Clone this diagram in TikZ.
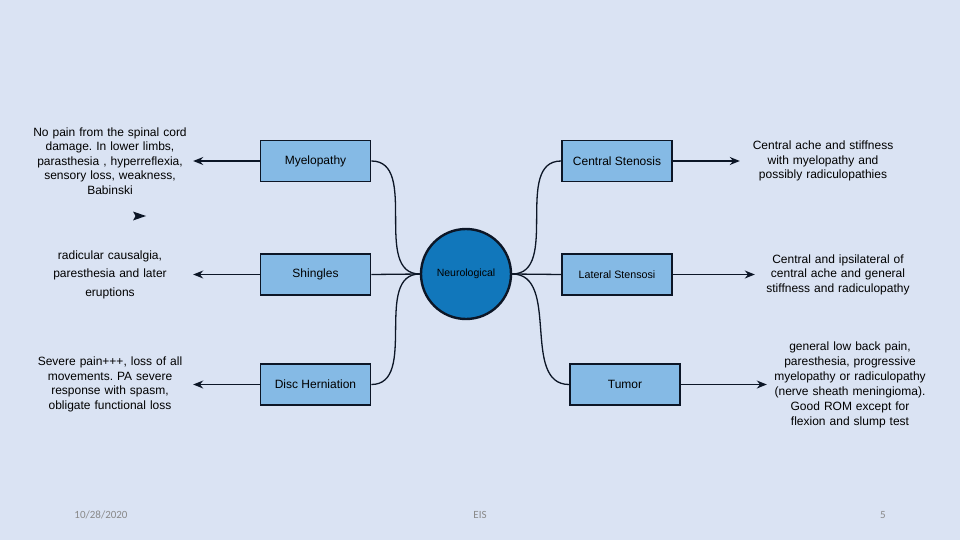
\documentclass[tikz,border=0pt]{standalone}
\usepackage{fontspec}
\setmainfont{Liberation Sans}
\newfontfamily\footfont{Carlito}
\usetikzlibrary{shapes,arrows.meta}
\definecolor{bgcol}{RGB}{218,227,243}
\definecolor{boxcol}{RGB}{133,186,229}
\definecolor{neurocol}{RGB}{17,119,187}
\definecolor{edgecol}{RGB}{12,22,38}
\definecolor{footcol}{RGB}{137,137,137}
\tikzstyle{symbox}=[draw=edgecol,line width=1.8pt,fill=boxcol,minimum width=110pt,minimum height=41pt,inner sep=0pt,font=\fontsize{12}{14}\selectfont]
\tikzstyle{desc}=[text width=160pt,inner sep=3pt,align=center,font=\fontsize{12}{14.5}\selectfont]
\tikzstyle{link}=[line width=1.3pt,edgecol]
\tikzstyle{pointer}=[line width=1.3pt,edgecol,-{Stealth[length=10pt,width=8pt]}]
\tikzstyle{foot}=[text=footcol,font=\footfont\fontsize{11}{13}\selectfont]
\frenchspacing

\begin{document}
\begin{tikzpicture}[x=1pt,y=-1pt]
\fill[bgcol] (0,0) rectangle (960,540);
\useasboundingbox (0,0) rectangle (960,540);
% centre
\node[draw=edgecol,circle,line width=2.4pt,fill=neurocol,minimum size=90pt,inner sep=0pt,font=\fontsize{10.5}{12}\selectfont] (neuro) at (466,274) {Neurological};
% left branch
\node[symbox] (myelo) at (315.5,161) {Myelopathy};
\node[symbox] (shingles) at (315.5,274.5) {Shingles};
\node[symbox] (disc) at (315.5,384.5) {Disc Herniation};
% right branch
\node[symbox] (central) at (617,161) {Central Stenosis};
\node[symbox,font=\fontsize{10.7}{13}\selectfont] (lateral) at (617,274.5) {Lateral Stensosi};
\node[symbox] (tumor) at (625,384.5) {Tumor};
% descriptions
\node[desc] (myelotxt) at (110,161) {No pain from the spinal cord\\ damage. In lower limbs,\\ parasthesia , hyperreflexia,\\ sensory loss, weakness,\\ Babinski};
\node[desc,font=\fontsize{12}{18.5}\selectfont] (shinglestxt) at (110,274.5) {radicular causalgia,\\ paresthesia and later\\ eruptions};
\node[desc] (disctxt) at (110,384.5) {Severe pain+++, loss of all\\ movements. PA severe\\ response with spasm,\\ obligate functional loss};
\node[desc] (centraltxt) at (823,161) {Central ache and stiffness\\ with myelopathy and\\ possibly radiculopathies};
\node[desc] (lateraltxt) at (838,274.5) {Central and ipsilateral of\\ central ache and general\\ stiffness and radiculopathy};
\node[desc,font=\fontsize{12}{15}\selectfont] (tumortxt) at (850,384.5) {general low back pain,\\ paresthesia, progressive\\ myelopathy or radiculopathy\\ (nerve sheath meningioma).\\ Good ROM except for\\ flexion and slump test};
% links
\draw[link] (myelo.east) to[out=0,in=180] (neuro.west);
\draw[link] (shingles.east) -- (neuro.west);
\draw[link] (disc.east) to[out=0,in=180] (neuro.west);
\draw[link] (neuro.east) to[out=0,in=180] (central.west);
\draw[link] (neuro.east) -- (lateral.west);
\draw[link] (neuro.east) to[out=0,in=180] (tumor.west);
% arrows
\draw[pointer] (myelo.west) -- (myelotxt.east);
\draw[pointer] (shingles.west) -- (shinglestxt.east);
\draw[pointer] (disc.west) -- (disctxt.east);
\draw[pointer] (central.east) -- (centraltxt.west);
\draw[pointer] (lateral.east) -- (lateraltxt.west);
\draw[pointer] (tumor.east) -- (tumortxt.west);
\fill[edgecol] (133,211.5) -- (146,216) -- (133,220.5) -- (135.5,216) -- cycle;
% footer
\node[foot] (date) at (101,515) {10/28/2020};
\node[foot] (eis) at (480,515) {EIS};
\node[foot] (page) at (883,515) {5};
\end{tikzpicture}
\end{document}
